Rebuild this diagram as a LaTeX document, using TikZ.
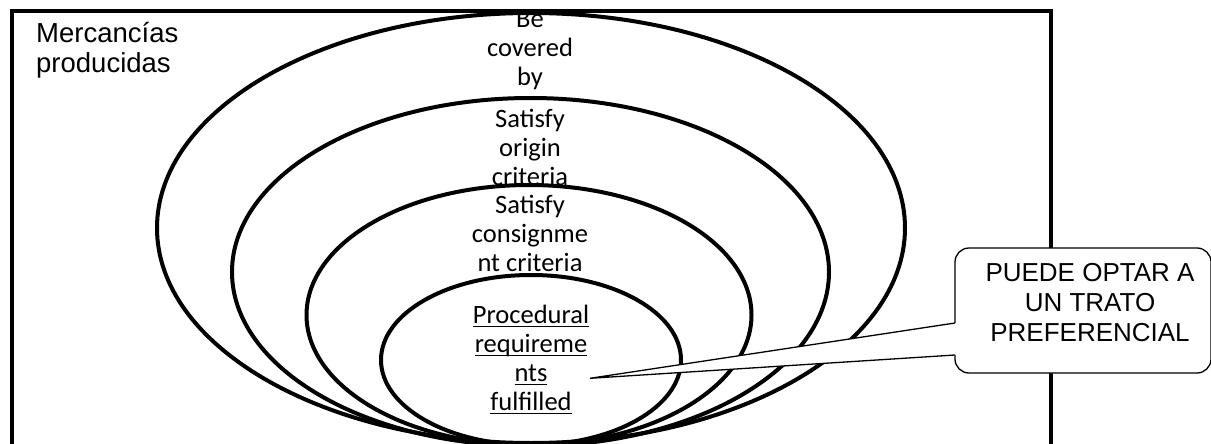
\documentclass[tikz,border=0pt]{standalone}
\usepackage{fontspec}
\setmainfont{Liberation Sans}
\newfontfamily\carlito{Carlito}
\usetikzlibrary{shapes.geometric}
\newcommand\myul[1]{\setbox0\hbox{#1}\rlap{\rule[-3.5pt]{\wd0}{1.2pt}}\box0}
\begin{document}
\begin{tikzpicture}[x=1pt,y=-1pt,
  ring/.style={draw, ellipse, line width=4pt, inner sep=0pt, outer sep=0pt},
  ctext/.style={anchor=north, inner sep=0pt, align=center, font={\fontsize{26.5}{29}\selectfont\carlito}},
  atext/.style={inner sep=0pt, font={\fontsize{26}{30}\selectfont}},
  callbox/.style={draw, fill=white, line width=1.3pt, rounded corners=14pt, minimum width=256pt, minimum height=125pt, inner sep=0pt}
]
\useasboundingbox (0,0) rectangle (1211,444);
\clip (0,0) rectangle (1211,444);
\fill[white] (0,0) rectangle (1211,444);
% frame
\draw[line width=3.5pt] (12,11) coordinate (fa) rectangle (1051,480) coordinate (fb);
\node[atext, font={\fontsize{27.5}{30}\selectfont}, anchor=north west, align=left] (merc) at (36,21) {\strut Mercancías\\producidas};
% texts
\node[ctext] (t1) at (530,7.4) {\strut Be\\covered\\by};
\node[ctext] (t2) at (530,107.4) {\strut Satisfy\\origin\\criteria};
\node[ctext] (t3) at (530,192.7) {\strut Satisfy\\consignme\\nt criteria};
\node[ctext] (t4) at (531,303.3) {\strut\myul{Procedural}\\\myul{requireme}\\\myul{nts}\\\myul{fulfilled}};
% ellipses
\node[ring, minimum width=748pt, minimum height=430pt] (e1) at (531,228) {};
\node[ring, minimum width=597pt, minimum height=348pt] (e2) at (530.5,272) {};
\node[ring, minimum width=445pt, minimum height=260pt] (e3) at (529,315) {};
\node[ring, minimum width=300pt, minimum height=170pt] (e4) at (531,360) {};
% callout
\node[callbox] (call) at (1083,310.5) {};
\node[atext, anchor=north, align=center] (ctxt) at (1090,260.7) {\strut PUEDE OPTAR A\\UN TRATO\\PREFERENCIAL};
\coordinate (tip) at (590,378.3);
\coordinate (tb1) at (955,323);
\coordinate (tb2) at (955,355);
\coordinate (tb1i) at (958,323);
\coordinate (tb2i) at (958,355);
\fill[white] (tb1i) -- (tb1) -- (tip) -- (tb2) -- (tb2i) -- cycle;
\draw[line width=1.3pt, line join=miter] (tb1) -- (tip) -- (tb2);
\end{tikzpicture}
\end{document}
